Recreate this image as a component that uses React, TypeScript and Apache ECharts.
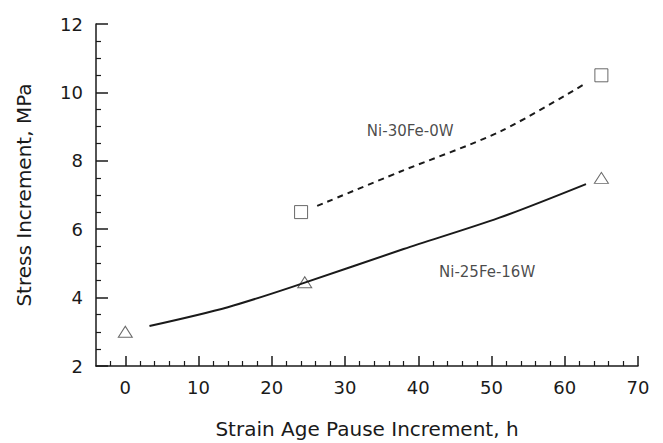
import React, { useEffect, useRef } from "react";
import * as echarts from "echarts";

const triX = [0, 24.5, 65];
const triY = [3.0, 4.45, 7.5];
const sqX = [24, 65];
const sqY = [6.5, 10.5];
const fitSolidX = [3.3, 14, 24, 38, 51, 62.9];
const fitSolidY = [3.17, 3.72, 4.4, 5.42, 6.33, 7.32];
const fitDashX = [26.2, 37.5, 51.2, 62.9];
const fitDashY = [6.68, 7.68, 8.86, 10.27];
const xMajor = [0, 10, 20, 30, 40, 50, 60, 70];
const xMinor = [-2, 2, 4, 6, 8, 12, 14, 16, 18, 22, 24, 26, 28, 32, 34, 36, 38, 42, 44, 46, 48, 52, 54, 56, 58, 62, 64, 66, 68];
const labels = [
  { text: "Ni-30Fe-0W", x: 38.9, y: 8.88 },
  { text: "Ni-25Fe-16W", x: 49.4, y: 4.75 },
];

const FONT = "DejaVu Sans";
const INK = "#1a1a1a";

export default function App() {
  const ref = useRef<HTMLDivElement>(null);
  useEffect(() => {
    if (!ref.current) return;
    const chart = echarts.init(ref.current, undefined, { renderer: "svg" });
    const zip = (a: number[], b: number[]) => a.map((v, i) => [v, b[i]]);
    chart.setOption({
      animation: false,
      backgroundColor: "#ffffff",
      grid: { left: 96, right: 25, top: 24, bottom: 77, containLabel: false, outerBoundsMode: "none" },
      xAxis: [
        {
          type: "value",
          min: -4,
          max: 70,
          name: "Strain Age Pause Increment, h",
          nameLocation: "middle",
          nameGap: 53,
          nameTextStyle: { fontFamily: FONT, fontSize: 20, color: INK },
          axisLine: { show: true, lineStyle: { color: INK, width: 1.5 } },
          axisTick: { show: true, inside: true, length: 10, customValues: xMajor, lineStyle: { color: INK, width: 1.5 } },
          axisLabel: { customValues: xMajor, fontFamily: FONT, fontSize: 18, color: INK, margin: 12 },
          splitLine: { show: false },
        },
        {
          type: "value",
          min: -4,
          max: 70,
          position: "bottom",
          axisLine: { show: false },
          axisTick: { show: true, inside: true, length: 5, customValues: xMinor, lineStyle: { color: INK, width: 1.2 } },
          axisLabel: { show: false },
          splitLine: { show: false },
        },
      ],
      yAxis: {
        type: "value",
        min: 2,
        max: 12,
        interval: 2,
        position: "left",
        name: "Stress Increment, MPa",
        nameLocation: "middle",
        nameGap: 62,
        nameTextStyle: { fontFamily: FONT, fontSize: 20, color: INK },
        axisLine: { show: true, onZero: false, lineStyle: { color: INK, width: 1.5 } },
        axisTick: { show: true, inside: true, length: 12, lineStyle: { color: INK, width: 1.5 } },
        minorTick: { show: true, splitNumber: 4, length: 5, lineStyle: { color: INK, width: 1.2 } },
        axisLabel: { fontFamily: FONT, fontSize: 18, color: INK, margin: 13 },
        splitLine: { show: false },
      },
      series: [
        {
          type: "line",
          data: zip(fitSolidX, fitSolidY),
          smooth: 0.3,
          symbol: "none",
          lineStyle: { color: INK, width: 2 },
        },
        {
          type: "line",
          data: zip(fitDashX, fitDashY),
          smooth: 0.3,
          symbol: "none",
          lineStyle: { color: INK, width: 2, type: [6, 5] },
        },
        {
          type: "scatter",
          data: zip(triX, triY),
          symbol: "triangle",
          symbolSize: [14, 11],
          itemStyle: { color: "#fff", borderColor: "#444", borderWidth: 1 },
        },
        {
          type: "scatter",
          data: zip(sqX, sqY),
          symbol: "rect",
          symbolSize: 13,
          itemStyle: { color: "#fff", borderColor: "#444", borderWidth: 1 },
        },
        {
          type: "scatter",
          data: labels.map((l) => ({ value: [l.x, l.y], name: l.text })),
          symbol: "circle",
          symbolSize: 1,
          itemStyle: { color: "rgba(0,0,0,0)" },
          label: {
            show: true,
            position: "inside",
            formatter: (p: any) => p.name,
            fontFamily: FONT,
            fontSize: 15,
            color: INK,
          },
        },
      ],
    });
    return () => chart.dispose();
  }, []);
  return <div ref={ref} style={{ width: 663, height: 443, position: "absolute", left: 0, top: 0 }} />;
}
